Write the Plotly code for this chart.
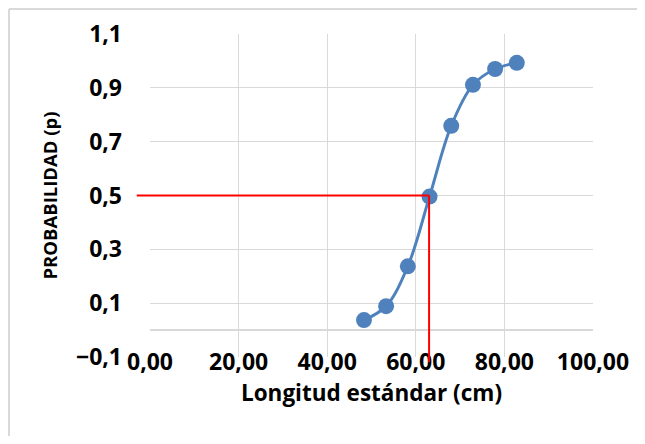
import plotly.graph_objects as go

# Data
longitud = [48.3, 53.3, 58.2, 63.1, 68.0, 72.9, 77.9, 82.8]
probabilidad = [0.037, 0.089, 0.237, 0.496, 0.759, 0.911, 0.970, 0.993]

# Reference (read-off) lines
p_ref = 0.5
x_ref = 63.0

X_RANGE = [0, 100]
Y_RANGE = [-0.1, 1.1]

FONT = "Open Sans"
BLUE = "#4F81BD"
GRID = "#D9D9D9"

L, T, PW, PH = 142, 26, 443, 323
W, H = 629, 428
B = H - T - PH

fig = go.Figure()
fig.add_trace(go.Scatter(
    x=longitud, y=probabilidad,
    mode="lines+markers",
    line=dict(color=BLUE, width=3, shape="spline", smoothing=1.0),
    marker=dict(color=BLUE, size=16),
    showlegend=False,
    cliponaxis=False,
))

xspan = X_RANGE[1] - X_RANGE[0]
yspan = Y_RANGE[1] - Y_RANGE[0]

# horizontal red line at p_ref, extending slightly left of plot area
fig.add_shape(type="line", xref="paper", yref="y",
              x0=-0.03, x1=(x_ref - X_RANGE[0]) / xspan,
              y0=p_ref, y1=p_ref,
              line=dict(color="#FF0000", width=2), layer="above")
# vertical red line from p_ref down slightly below plot bottom
fig.add_shape(type="line", xref="x", yref="paper",
              x0=x_ref, x1=x_ref,
              y0=-0.016, y1=(p_ref - Y_RANGE[0]) / yspan,
              line=dict(color="#FF0000", width=2), layer="above")

# chart-area border: left and top edges, kept inside the figure
bx = (1 - L) / PW
by = 1 + (T - 1) / PH
fig.add_shape(type="line", xref="paper", yref="paper",
              x0=bx, x1=bx, y0=-B / PH, y1=by,
              line=dict(color=GRID, width=2), layer="below")
fig.add_shape(type="line", xref="paper", yref="paper",
              x0=bx, x1=(W - L) / PW, y0=by, y1=by,
              line=dict(color=GRID, width=2), layer="below")

fig.update_layout(
    width=W, height=H,
    margin=dict(l=L, r=W - L - PW, t=T, b=B, autoexpand=False),
    paper_bgcolor="white", plot_bgcolor="white",
    separators=",.",
    font=dict(family=FONT, color="black", size=21),
    xaxis=dict(
        range=X_RANGE, dtick=20, tick0=0, tickformat=".2f",
        showgrid=True, gridcolor=GRID, gridwidth=1,
        zeroline=False, showline=False,
        tickfont=dict(family=FONT, size=23, color="black", weight="bold"),
        title=dict(text="Longitud estándar (cm)",
                   font=dict(family=FONT, size=22.5, color="black", weight="bold"),
                   standoff=6),
        ticklabelstandoff=-11,
    ),
    yaxis=dict(
        range=Y_RANGE, dtick=0.2, tick0=-0.1, tickformat=".1f",
        showgrid=True, gridcolor=GRID, gridwidth=1,
        zeroline=True, zerolinecolor=GRID, zerolinewidth=1.5,
        showline=False,
        tickfont=dict(family=FONT, size=23, color="black", weight="bold"),
        title=dict(text="PROBABILIDAD (p)",
                   font=dict(family=FONT, size=18.5, color="black", weight="bold"),
                   standoff=13),
        ticklabelstandoff=27,
    ),
)

fig.write_html("out.html")
